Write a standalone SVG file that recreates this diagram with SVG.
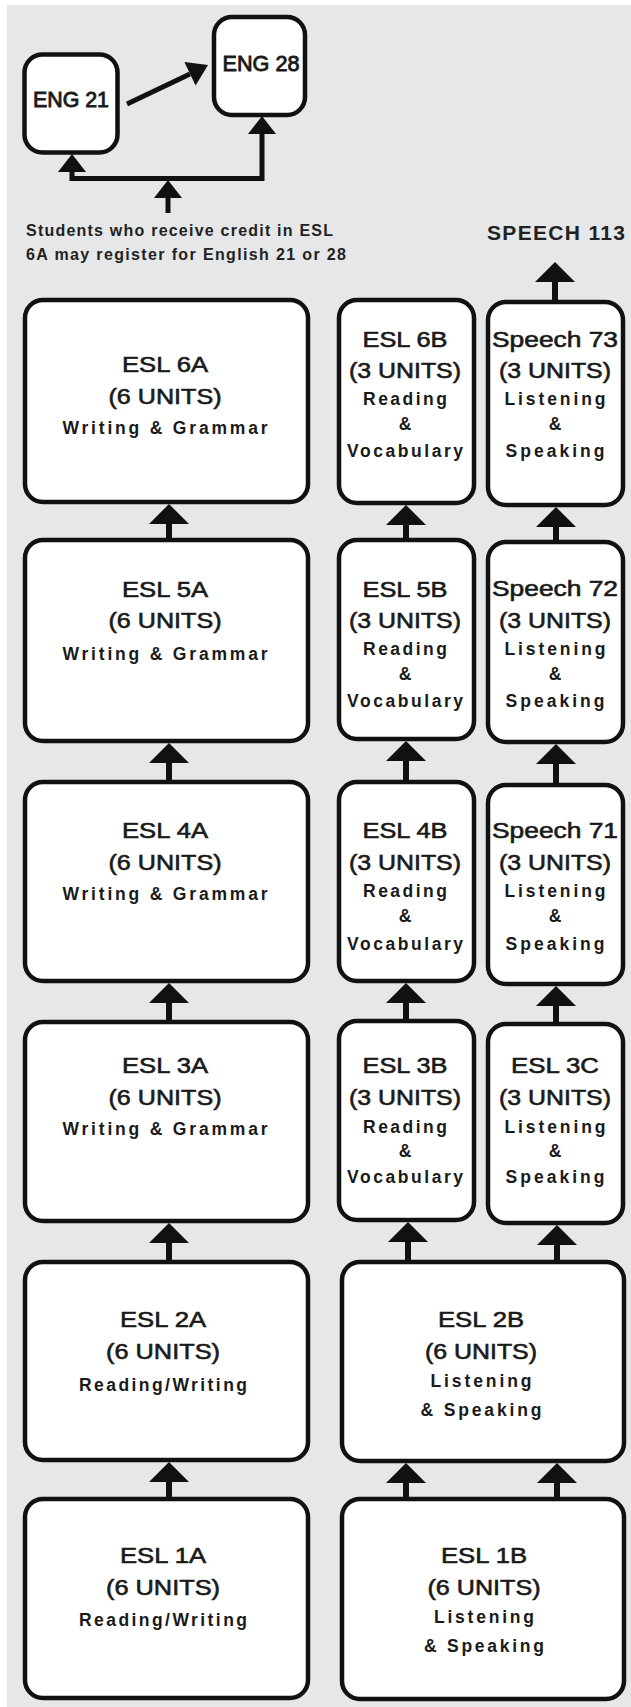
<svg xmlns="http://www.w3.org/2000/svg" xmlns:xlink="http://www.w3.org/1999/xlink" width="631" height="1707" viewBox="0 0 631 1707">
<style>
.box{fill:#fff;stroke:#111;stroke-width:4.5}
.t{font-family:"Liberation Sans",Arial,sans-serif;font-size:22px;fill:#1a1a1a;stroke:#1a1a1a;stroke-width:0.6;text-anchor:middle}
.e{stroke-width:0.9}
.s{font-family:"Liberation Sans",Arial,sans-serif;font-size:17.5px;font-weight:bold;fill:#1a1a1a;text-anchor:middle}
.n{font-family:"Liberation Sans",Arial,sans-serif;font-weight:bold;fill:#222}
.ln{stroke:#111;stroke-width:6;fill:none}
.lt{stroke:#111;stroke-width:5;fill:none}
.hd{fill:#111}
</style>
<defs>
<path id="ah" class="hd" d="M0,0 L20,20 L-20,20 Z"/>
<path id="ahs" class="hd" d="M0,0 L14,18 L-14,18 Z"/>
</defs>
<rect x="7" y="5" width="624" height="1702" fill="#e6e7e8"/>

<g id="connectors">
<line class="lt" x1="127" y1="104" x2="190" y2="74" stroke-width="4.5"/>
<polygon class="hd" points="208,65 184.4,62 195.6,85.4"/>
<polyline class="lt" points="72,170 72,178.5 262,178.5 262,130"/>
<use xlink:href="#ahs" x="72" y="154"/>
<use xlink:href="#ahs" x="262" y="116"/>
<line class="lt" x1="168" y1="213" x2="168" y2="196"/>
<use xlink:href="#ahs" x="168" y="180"/>
<line class="ln" x1="555" y1="302" x2="555" y2="280"/>
<use xlink:href="#ah" x="555" y="262"/>

<line class="ln" x1="169" y1="540" x2="169" y2="522"/><use xlink:href="#ah" x="169" y="504"/>
<line class="ln" x1="169" y1="782" x2="169" y2="761"/><use xlink:href="#ah" x="169" y="743"/>
<line class="ln" x1="169" y1="1022" x2="169" y2="1001"/><use xlink:href="#ah" x="169" y="983"/>
<line class="ln" x1="169" y1="1262" x2="169" y2="1241"/><use xlink:href="#ah" x="169" y="1223"/>
<line class="ln" x1="169" y1="1499" x2="169" y2="1480"/><use xlink:href="#ah" x="169" y="1462"/>

<line class="ln" x1="406" y1="540" x2="406" y2="523"/><use xlink:href="#ah" x="406" y="505"/>
<line class="ln" x1="406" y1="782" x2="406" y2="759"/><use xlink:href="#ah" x="406" y="741"/>
<line class="ln" x1="406" y1="1022" x2="406" y2="1001"/><use xlink:href="#ah" x="406" y="983"/>
<line class="ln" x1="408" y1="1262" x2="408" y2="1240"/><use xlink:href="#ah" x="408" y="1222"/>
<line class="ln" x1="406" y1="1499" x2="406" y2="1481"/><use xlink:href="#ah" x="406" y="1463"/>

<line class="ln" x1="556" y1="542" x2="556" y2="525"/><use xlink:href="#ah" x="556" y="507"/>
<line class="ln" x1="556" y1="785" x2="556" y2="762"/><use xlink:href="#ah" x="556" y="744"/>
<line class="ln" x1="556" y1="1024" x2="556" y2="1004"/><use xlink:href="#ah" x="556" y="986"/>
<line class="ln" x1="557" y1="1262" x2="557" y2="1243"/><use xlink:href="#ah" x="557" y="1225"/>
<line class="ln" x1="557" y1="1499" x2="557" y2="1481"/><use xlink:href="#ah" x="557" y="1463"/>
</g>

<g id="eng21">
<rect class="box" x="24.5" y="54.5" width="93" height="98" rx="18"/>
<text class="t e" x="71" y="107" textLength="76" lengthAdjust="spacingAndGlyphs">ENG 21</text>
</g>
<g id="eng28">
<rect class="box" x="214" y="17" width="91" height="98" rx="18"/>
<text class="t e" x="261" y="71" textLength="77" lengthAdjust="spacingAndGlyphs">ENG 28</text>
</g>

<g id="note">
<text class="n" x="26" y="236" font-size="16" textLength="307">Students who receive credit in ESL</text>
<text class="n" x="26" y="260" font-size="16" textLength="320">6A may register for English 21 or 28</text>
</g>
<g id="speech113">
<text class="n" x="487" y="240" font-size="21" textLength="138">SPEECH 113</text>
</g>

<g id="esl6a">
<rect class="box" x="25" y="300" width="283" height="202" rx="18"/>
<text class="t" x="165" y="372" textLength="86" lengthAdjust="spacingAndGlyphs">ESL 6A</text>
<text class="t" x="165" y="404" textLength="113" lengthAdjust="spacingAndGlyphs">(6 UNITS)</text>
<text class="s" x="165" y="434" textLength="205">Writing &amp; Grammar</text>
</g>
<g id="esl6b">
<rect class="box" x="339" y="300" width="135" height="203" rx="18"/>
<text class="t" x="405" y="347" textLength="85" lengthAdjust="spacingAndGlyphs">ESL 6B</text>
<text class="t" x="405" y="378" textLength="112" lengthAdjust="spacingAndGlyphs">(3 UNITS)</text>
<text class="s" x="405" y="405" textLength="84">Reading</text>
<text class="s" x="405" y="430">&amp;</text>
<text class="s" x="405" y="457" textLength="116">Vocabulary</text>
</g>
<g id="speech73">
<rect class="box" x="488" y="302" width="135" height="203" rx="18"/>
<text class="t" x="555" y="347" textLength="126" lengthAdjust="spacingAndGlyphs">Speech 73</text>
<text class="t" x="555" y="378" textLength="112" lengthAdjust="spacingAndGlyphs">(3 UNITS)</text>
<text class="s" x="555" y="405" textLength="101">Listening</text>
<text class="s" x="555" y="430">&amp;</text>
<text class="s" x="555" y="457" textLength="99">Speaking</text>
</g>

<g id="esl5a">
<rect class="box" x="25" y="540" width="283" height="201" rx="18"/>
<text class="t" x="165" y="597" textLength="86" lengthAdjust="spacingAndGlyphs">ESL 5A</text>
<text class="t" x="165" y="628" textLength="113" lengthAdjust="spacingAndGlyphs">(6 UNITS)</text>
<text class="s" x="165" y="660" textLength="205">Writing &amp; Grammar</text>
</g>
<g id="esl5b">
<rect class="box" x="339" y="540" width="135" height="199" rx="18"/>
<text class="t" x="405" y="597" textLength="85" lengthAdjust="spacingAndGlyphs">ESL 5B</text>
<text class="t" x="405" y="628" textLength="112" lengthAdjust="spacingAndGlyphs">(3 UNITS)</text>
<text class="s" x="405" y="655" textLength="84">Reading</text>
<text class="s" x="405" y="680">&amp;</text>
<text class="s" x="405" y="707" textLength="116">Vocabulary</text>
</g>
<g id="speech72">
<rect class="box" x="488" y="542" width="135" height="200" rx="18"/>
<text class="t" x="555" y="596" textLength="126" lengthAdjust="spacingAndGlyphs">Speech 72</text>
<text class="t" x="555" y="628" textLength="112" lengthAdjust="spacingAndGlyphs">(3 UNITS)</text>
<text class="s" x="555" y="655" textLength="101">Listening</text>
<text class="s" x="555" y="680">&amp;</text>
<text class="s" x="555" y="707" textLength="99">Speaking</text>
</g>

<g id="esl4a">
<rect class="box" x="25" y="782" width="283" height="199" rx="18"/>
<text class="t" x="165" y="838" textLength="86" lengthAdjust="spacingAndGlyphs">ESL 4A</text>
<text class="t" x="165" y="870" textLength="113" lengthAdjust="spacingAndGlyphs">(6 UNITS)</text>
<text class="s" x="165" y="900" textLength="205">Writing &amp; Grammar</text>
</g>
<g id="esl4b">
<rect class="box" x="339" y="782" width="135" height="199" rx="18"/>
<text class="t" x="405" y="838" textLength="85" lengthAdjust="spacingAndGlyphs">ESL 4B</text>
<text class="t" x="405" y="870" textLength="112" lengthAdjust="spacingAndGlyphs">(3 UNITS)</text>
<text class="s" x="405" y="897" textLength="84">Reading</text>
<text class="s" x="405" y="922">&amp;</text>
<text class="s" x="405" y="950" textLength="116">Vocabulary</text>
</g>
<g id="speech71">
<rect class="box" x="488" y="785" width="135" height="199" rx="18"/>
<text class="t" x="555" y="838" textLength="126" lengthAdjust="spacingAndGlyphs">Speech 71</text>
<text class="t" x="555" y="870" textLength="112" lengthAdjust="spacingAndGlyphs">(3 UNITS)</text>
<text class="s" x="555" y="897" textLength="101">Listening</text>
<text class="s" x="555" y="922">&amp;</text>
<text class="s" x="555" y="950" textLength="99">Speaking</text>
</g>

<g id="esl3a">
<rect class="box" x="25" y="1022" width="283" height="199" rx="18"/>
<text class="t" x="165" y="1073" textLength="86" lengthAdjust="spacingAndGlyphs">ESL 3A</text>
<text class="t" x="165" y="1105" textLength="113" lengthAdjust="spacingAndGlyphs">(6 UNITS)</text>
<text class="s" x="165" y="1135" textLength="205">Writing &amp; Grammar</text>
</g>
<g id="esl3b">
<rect class="box" x="339" y="1021" width="135" height="199" rx="18"/>
<text class="t" x="405" y="1073" textLength="85" lengthAdjust="spacingAndGlyphs">ESL 3B</text>
<text class="t" x="405" y="1105" textLength="112" lengthAdjust="spacingAndGlyphs">(3 UNITS)</text>
<text class="s" x="405" y="1133" textLength="84">Reading</text>
<text class="s" x="405" y="1157">&amp;</text>
<text class="s" x="405" y="1183" textLength="116">Vocabulary</text>
</g>
<g id="esl3c">
<rect class="box" x="488" y="1024" width="135" height="199" rx="18"/>
<text class="t" x="555" y="1073" textLength="88" lengthAdjust="spacingAndGlyphs">ESL 3C</text>
<text class="t" x="555" y="1105" textLength="112" lengthAdjust="spacingAndGlyphs">(3 UNITS)</text>
<text class="s" x="555" y="1133" textLength="101">Listening</text>
<text class="s" x="555" y="1157">&amp;</text>
<text class="s" x="555" y="1183" textLength="99">Speaking</text>
</g>

<g id="esl2a">
<rect class="box" x="25" y="1262" width="283" height="198" rx="18"/>
<text class="t" x="163" y="1327" textLength="86" lengthAdjust="spacingAndGlyphs">ESL 2A</text>
<text class="t" x="163" y="1359" textLength="114" lengthAdjust="spacingAndGlyphs">(6 UNITS)</text>
<text class="s" x="163" y="1391" textLength="168">Reading/Writing</text>
</g>
<g id="esl2b">
<rect class="box" x="342" y="1262" width="282" height="199" rx="18"/>
<text class="t" x="481" y="1327" textLength="86" lengthAdjust="spacingAndGlyphs">ESL 2B</text>
<text class="t" x="481" y="1359" textLength="112" lengthAdjust="spacingAndGlyphs">(6 UNITS)</text>
<text class="s" x="481" y="1387" textLength="101">Listening</text>
<text class="s" x="481" y="1416" textLength="121">&amp; Speaking</text>
</g>

<g id="esl1a">
<rect class="box" x="25" y="1499" width="283" height="199" rx="18"/>
<text class="t" x="163" y="1563" textLength="86" lengthAdjust="spacingAndGlyphs">ESL 1A</text>
<text class="t" x="163" y="1595" textLength="114" lengthAdjust="spacingAndGlyphs">(6 UNITS)</text>
<text class="s" x="163" y="1626" textLength="168">Reading/Writing</text>
</g>
<g id="esl1b">
<rect class="box" x="342" y="1499" width="282" height="200" rx="18"/>
<text class="t" x="484" y="1563" textLength="86" lengthAdjust="spacingAndGlyphs">ESL 1B</text>
<text class="t" x="484" y="1595" textLength="113" lengthAdjust="spacingAndGlyphs">(6 UNITS)</text>
<text class="s" x="484" y="1623" textLength="100">Listening</text>
<text class="s" x="484" y="1652" textLength="120">&amp; Speaking</text>
</g>
</svg>
